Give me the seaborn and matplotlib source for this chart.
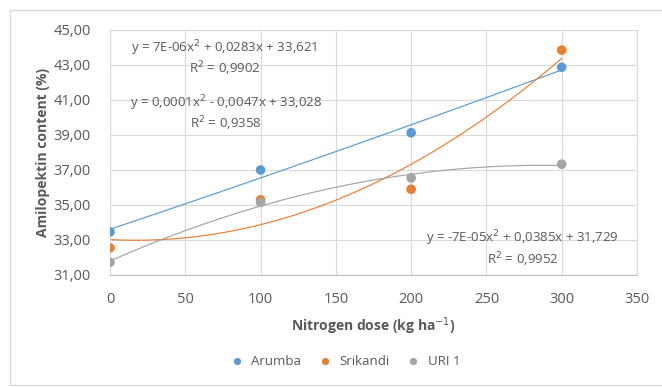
import numpy as np
import pandas as pd
import matplotlib
matplotlib.use("Agg")
import matplotlib.pyplot as plt
import seaborn as sns

# Nitrogen dose (kg/ha) and amylopectin content (%) per variety
doses = [0, 100, 200, 300]
arumba = [33.46, 37.0, 39.13, 42.87]
srikandi = [32.55, 35.3, 35.9, 43.85]
uri1 = [31.73, 35.15, 36.55, 37.33]
varieties = ["Arumba", "Srikandi", "URI 1"]
equations = [
    ("y = 7E-06x$^2$ + 0,0283x + 33,621", "R$^2$ = 0,9902"),
    ("y = 0,0001x$^2$ - 0,0047x + 33,028", "R$^2$ = 0,9358"),
    ("y = -7E-05x$^2$ + 0,0385x + 31,729", "R$^2$ = 0,9952"),
]
y_ticks = [31, 33, 35, 37, 39, 41, 43, 45]
x_ticks = [0, 50, 100, 150, 200, 250, 300, 350]

colors = {"Arumba": "#5B9BD5", "Srikandi": "#ED7D31", "URI 1": "#A5A5A5"}
text_col = "#595959"

sns.set_theme(style="white")
plt.rcParams["font.family"] = ["Open Sans", "DejaVu Sans"]

df = pd.DataFrame({
    "dose": doses * 3,
    "content": arumba + srikandi + uri1,
    "variety": sum([[v] * len(doses) for v in varieties], []),
})

fig = plt.figure(figsize=(6.62, 3.87), dpi=100)
fig.patch.set_facecolor("white")
fig.add_artist(plt.Rectangle((10 / 662, 0.005), 1.2, 1 - 0.005 - 10 / 387,
                             transform=fig.transFigure, fill=False,
                             edgecolor="#D9D9D9", linewidth=1.0))
ax = fig.add_axes([110 / 662, 1 - 275 / 387, 527 / 662, 245 / 387])

# Second-order polynomial trendlines
xs = np.linspace(0, 300, 200)
fits = []
for v in varieties:
    sub = df[df["variety"] == v]
    coef = np.polyfit(sub["dose"], sub["content"], 2)
    fits.append(pd.DataFrame({"dose": xs, "content": np.polyval(coef, xs), "variety": v}))
trend = pd.concat(fits)
sns.lineplot(data=trend, x="dose", y="content", hue="variety", palette=colors,
             linewidth=0.85, legend=False, ax=ax)

sns.scatterplot(data=df, x="dose", y="content", hue="variety", palette=colors,
                s=48, edgecolor="none", zorder=3, ax=ax)

ax.set_xlim(0, 350)
ax.set_ylim(31, 45)
ax.set_xticks(x_ticks)
ax.set_yticks(y_ticks)
ax.set_yticklabels([f"{t:.2f}".replace(".", ",") for t in y_ticks])
ax.tick_params(axis="both", length=0, labelsize=10.5, colors=text_col)
ax.tick_params(axis="y", pad=14)
ax.tick_params(axis="x", pad=12)
ax.grid(True, color="#D9D9D9", linewidth=0.8)
for side, sp in ax.spines.items():
    sp.set_color("#D9D9D9")
    sp.set_linewidth(0.8)
ax.spines["bottom"].set_color("#BFBFBF")

ax.set_xlabel("Nitrogen dose (kg ha$^{-1}$)", fontsize=10, fontweight="bold",
              color=text_col, labelpad=6)
ax.set_ylabel("Amilopektin content (%)", fontsize=10, fontweight="bold",
              color=text_col, labelpad=2)

# Trendline equation labels (data coordinates)
label_pos = [(76, 43.95, 42.8), (77, 40.8, 39.65), (274, 33.1, 31.85)]
for (eq, r2), (x, y1, y2) in zip(equations, label_pos):
    ax.text(x, y1, eq, ha="center", va="center", fontsize=9.5, color=text_col)
    ax.text(x, y2, r2, ha="center", va="center", fontsize=9.5, color=text_col)

leg = ax.legend(loc="center", bbox_to_anchor=(0.44, -0.355), ncol=3,
                frameon=False, fontsize=9.5, handletextpad=0.1,
                columnspacing=0.8, markerscale=0.75)
for t in leg.get_texts():
    t.set_color(text_col)

fig.savefig("out.png", dpi=100)
